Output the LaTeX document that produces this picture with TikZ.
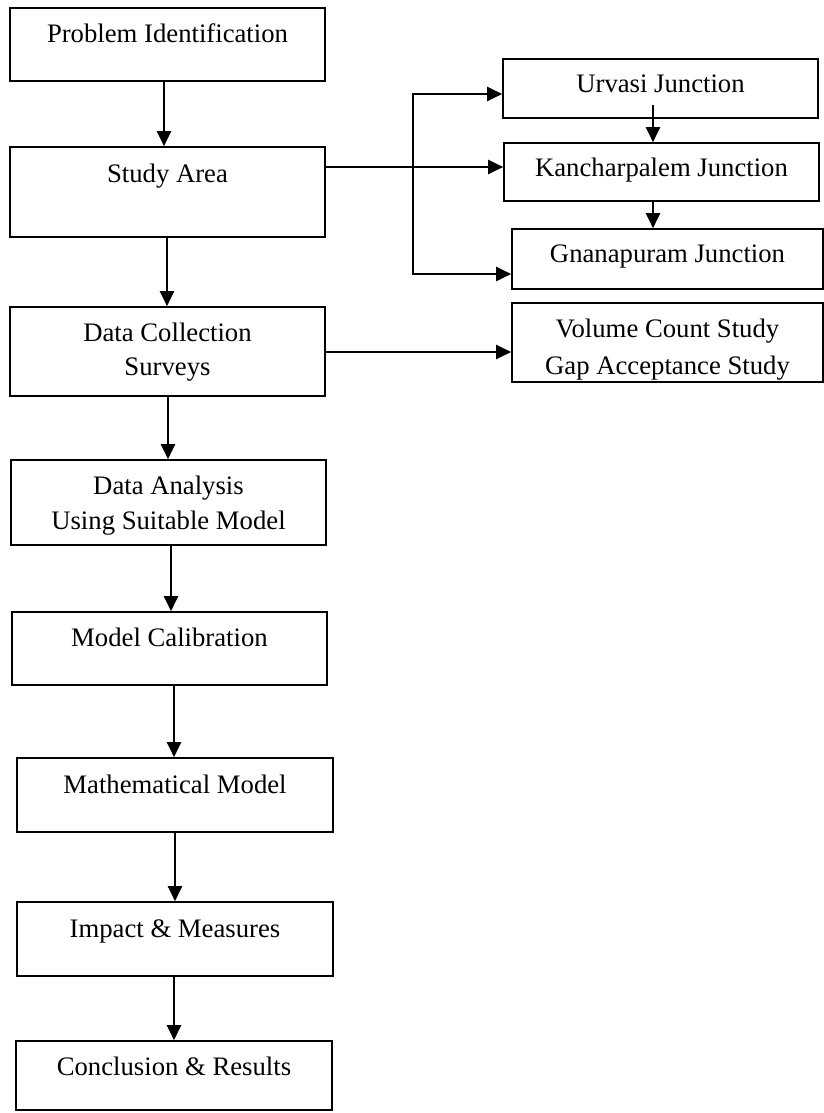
\documentclass[tikz,border=0pt]{standalone}
\usepackage{fontspec}
\setmainfont{Liberation Serif}
\usetikzlibrary{arrows.meta,fit,calc}
\begin{document}
\begin{tikzpicture}[x=1pt,y=-1pt,
  box/.style={draw=black,line width=1.6pt,inner sep=0pt,rectangle},
  lbl/.style={anchor=base,inner sep=0pt,font=\fontsize{26.7}{32}\selectfont},
  conn/.style={line width=2pt},
  arr/.style={line width=2pt,-{Triangle[length=15pt,width=14pt]}}]
\useasboundingbox (0,0) rectangle (824,1113);
% left column boxes
\node[box,fit={(10,8) (325,81)}] (b1) {};
\node[box,fit={(10,147) (325,237)}] (b2) {};
\node[box,fit={(10,307) (325,396)}] (b3) {};
\node[box,fit={(11,460) (326,545)}] (b4) {};
\node[box,fit={(12,612) (327,685)}] (b5) {};
\node[box,fit={(17,758) (333,832)}] (b6) {};
\node[box,fit={(17,902) (333,976)}] (b7) {};
\node[box,fit={(16,1041) (332,1110)}] (b8) {};
% right boxes
\node[box,fit={(503,59) (818,118)}] (u) {};
\node[box,fit={(504,143) (819,201)}] (k) {};
\node[box,fit={(512,229) (823,289)}] (g) {};
\node[box,fit={(512,303) (823,382)}] (v) {};
% texts
\node[lbl] (t1) at ($(b1.north)+(0,35)$) {Problem Identification};
\node[lbl] (t2) at ($(b2.north)+(0,36)$) {Study Area};
\node[lbl] (t3a) at ($(b3.north)+(0,35)$) {Data Collection};
\node[lbl] (t3b) at ($(b3.north)+(0,69)$) {Surveys};
\node[lbl] (t4a) at ($(b4.north)+(0,35)$) {Data Analysis};
\node[lbl] (t4b) at ($(b4.north)+(0,70)$) {Using Suitable Model};
\node[lbl] (t5) at ($(b5.north)+(0,35)$) {Model Calibration};
\node[lbl] (t6) at ($(b6.north)+(0,36)$) {Mathematical Model};
\node[lbl] (t7) at ($(b7.north)+(0,36)$) {Impact \& Measures};
\node[lbl] (t8) at ($(b8.north)+(0,35)$) {Conclusion \& Results};
\node[lbl] (tu) at ($(u.north)+(0,34)$) {Urvasi Junction};
\node[lbl] (tk) at ($(k.north)+(0,34)$) {Kancharpalem Junction};
\node[lbl] (tg) at ($(g.north)+(0,34)$) {Gnanapuram Junction};
\node[lbl] (tva) at ($(v.north)+(0,35)$) {Volume Count Study};
\node[lbl] (tvb) at ($(v.north)+(0,72)$) {Gap Acceptance Study};
% main column arrows
\draw[arr] ([xshift=-3.5pt]b1.south) -- ([xshift=-3.5pt]b2.north);
\draw[arr] ([xshift=-0.5pt]b2.south) -- ([xshift=-0.5pt]b3.north);
\draw[arr] ([xshift=0.5pt]b3.south) -- ([xshift=-0.5pt]b4.north);
\draw[arr] ([xshift=2.5pt]b4.south) -- ([xshift=1.5pt]b5.north);
\draw[arr] ([xshift=4.5pt]b5.south) -- ([xshift=-1pt]b6.north);
\draw[arr] (b6.south) -- (b7.north);
\draw[arr] ([xshift=-1pt]b7.south) -- (b8.north);
% branches
\coordinate (j) at (413,167);
\coordinate (jt) at (413,94);
\coordinate (jb) at (413,274);
\draw[arr] (b2.east |- j) -- (k.west |- j);
\draw[conn] (jt) -- (jb);
\draw[arr] ([xshift=-1pt]jt) -- (jt -| u.west);
\draw[arr] ([xshift=-1pt]jb) -- (jb -| g.west);
\coordinate (us) at (653,105);
\draw[arr] (us) -- (us |- k.north);
\draw[arr] (k.south -| us) -- (g.north -| us);
\coordinate (dv) at (0,352);
\draw[arr] (b3.east |- dv) -- (v.west |- dv);
\end{tikzpicture}
\end{document}
